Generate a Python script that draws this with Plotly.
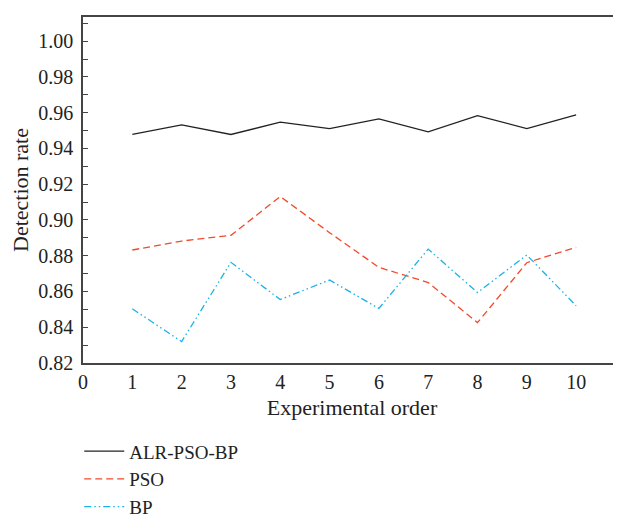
import plotly.graph_objects as go

x_order = [1, 2, 3, 4, 5, 6, 7, 8, 9, 10]
alr_pso_bp = [0.9478, 0.9532, 0.9478, 0.9547, 0.9511, 0.9565, 0.9493, 0.9583, 0.9511, 0.9587]
pso = [0.8832, 0.8882, 0.8914, 0.9131, 0.8929, 0.8735, 0.8650, 0.8426, 0.8761, 0.8847]
bp = [0.8503, 0.8320, 0.8763, 0.8555, 0.8664, 0.8505, 0.8837, 0.8594, 0.8804, 0.8520]
x_ticks = [0, 1, 2, 3, 4, 5, 6, 7, 8, 9, 10]
y_ticks = [0.82, 0.84, 0.86, 0.88, 0.90, 0.92, 0.94, 0.96, 0.98, 1.00]

FONT = "Liberation Serif"
TXT = "#222222"

fig = go.Figure()
fig.add_trace(go.Scatter(x=x_order, y=alr_pso_bp, mode="lines", name="ALR-PSO-BP",
                         line=dict(color="#222222", width=1.3)))
fig.add_trace(go.Scatter(x=x_order, y=pso, mode="lines", name="PSO",
                         line=dict(color="#f04a2a", width=1.3, dash="7px,4px")))
fig.add_trace(go.Scatter(x=x_order, y=bp, mode="lines", name="BP",
                         line=dict(color="#1ab2ea", width=1.3, dash="7px,3px,1.5px,3px,1.5px,3px")))

# page body has an 8px margin; plot area placed so it lands at the reference position
fig.update_layout(
    width=613, height=509,
    margin=dict(l=75, r=0, t=9, b=154, autoexpand=False),
    paper_bgcolor="white", plot_bgcolor="white",
    font=dict(family=FONT, size=20, color=TXT),
    showlegend=True,
    legend=dict(x=-0.007, xanchor="left", y=-0.472, yanchor="bottom",
                orientation="v", font=dict(family=FONT, size=19, color=TXT),
                bgcolor="rgba(0,0,0,0)", itemwidth=40, tracegroupgap=0),
    xaxis=dict(range=[0, 10.91], tickvals=x_ticks, ticktext=[str(v) for v in x_ticks],
               showgrid=False, zeroline=False, showline=True, linecolor="#444444",
               linewidth=1.5, mirror=True, ticks="", automargin=False,
               title=dict(text="Experimental order", standoff=8,
                          font=dict(family=FONT, size=22, color=TXT)),
               tickfont=dict(family=FONT, size=20, color=TXT)),
    yaxis=dict(range=[0.82, 1.0135], tickvals=y_ticks, ticktext=[f"{v:.2f}" for v in y_ticks],
               showgrid=False, zeroline=False, showline=True, linecolor="#444444",
               linewidth=1.5, mirror=False, ticks="inside", ticklen=5, tickcolor="#444444",
               automargin=False, ticklabelstandoff=4,
               minor=dict(dtick=0.01, ticks="inside", ticklen=5, tickcolor="#444444"),
               title=dict(text="Detection rate", standoff=8,
                          font=dict(family=FONT, size=22, color=TXT)),
               tickfont=dict(family=FONT, size=20, color=TXT)),
)

fig.write_html("out.html")
